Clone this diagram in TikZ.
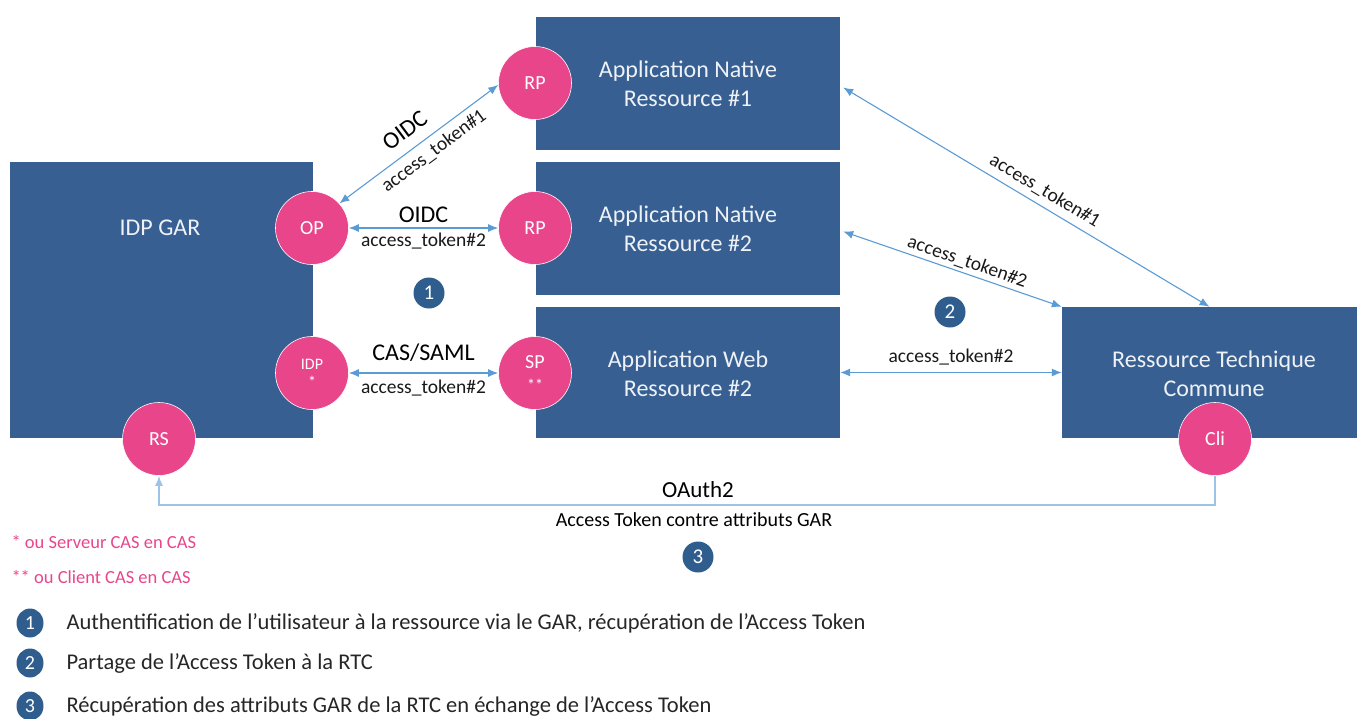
\documentclass[tikz,border=0pt]{standalone}
\usepackage{fontspec}
\setmainfont{Carlito}
\usetikzlibrary{arrows.meta,calc,shapes.geometric}
\definecolor{navy}{HTML}{375F91}
\definecolor{pinkc}{HTML}{E8458B}
\definecolor{arrc}{HTML}{5B9BD5}
\definecolor{oac}{HTML}{9DC3E6}
\definecolor{badgec}{HTML}{2F5E8E}
\definecolor{boxtxt}{HTML}{EEF2F7}
\tikzset{
  box/.style={fill=navy, draw=none, inner sep=0pt},
  boxlabel/.style={text=boxtxt, align=center, font=\fontsize{24}{29}\selectfont},
  role/.style={circle, fill=pinkc, draw=white, line width=0.6pt, minimum size=73pt, inner sep=0pt, text=white, align=center, font=\fontsize{20}{20}\selectfont},
  link/.style={draw=arrc, line width=1.1pt, {Latex[length=10pt,width=8pt]}-{Latex[length=10pt,width=8pt]}},
  proto/.style={font=\fontsize{24}{24}\selectfont, text=black, inner sep=1pt},
  tok/.style={font=\fontsize{19.5}{19.5}\selectfont, text=black!90, inner sep=1pt},
  badge/.style={circle, fill=badgec, minimum size=31pt, inner sep=0pt, text=white, font=\fontsize{21}{21}\selectfont},
  lbadge/.style={ellipse, fill=badgec, minimum width=27pt, minimum height=29pt, inner sep=0pt, text=white, font=\fontsize{20}{20}\selectfont},
  legend/.style={anchor=west, font=\fontsize{22.5}{22.5}\selectfont, text=black!85},
  note/.style={anchor=west, text=pinkc, font=\fontsize{18.5}{18.5}\selectfont}
}
\begin{document}
\begin{tikzpicture}[x=1pt,y=-1pt]
\useasboundingbox (0,0) rectangle (1357,718);
% boxes
\node[box, minimum width=303pt, minimum height=276pt] (idp) at (161.5,300) {};
\node[boxlabel] (idptxt) at (160,228) {IDP GAR};
\node[box, minimum width=304pt, minimum height=133pt] (app1) at (688,83.5) {};
\node[boxlabel] (app1txt) at (688,84) {Application Native\\Ressource \#1};
\node[box, minimum width=304pt, minimum height=133pt] (app2) at (688,228.5) {};
\node[boxlabel] (app2txt) at (688,229) {Application Native\\Ressource \#2};
\node[box, minimum width=304pt, minimum height=131pt] (web) at (688,372.5) {};
\node[boxlabel] (webtxt) at (688,374) {Application Web\\Ressource \#2};
\node[box, minimum width=295pt, minimum height=131pt] (rtc) at (1209.5,372.5) {};
\node[boxlabel] (rtctxt) at (1214,374) {Ressource Technique\\Commune};
% role circles
\node[role] (rp1) at (535,83) {RP};
\node[role] (op) at (312,228) {OP};
\node[role] (rp2) at (535,228) {RP};
\node[role, font=\fontsize{16}{18}\selectfont] (idpc) at (312,373) {IDP\\*};
\node[role, font=\fontsize{20}{22}\selectfont] (sp) at (535,373) {SP\\\fontsize{16}{16}\selectfont**};
\node[role] (rs) at (159,439) {RS};
\node[role] (cli) at (1215,439) {Cli};
% links
\draw[link] (op.42) -- (rp1.183)
  node[proto, midway, sloped, above=10pt, xshift=-3pt] (oidc1) {OIDC}
  node[tok, midway, sloped, below=5pt, xshift=8pt] (tok1) {access\_token\#1};
\draw[link] (op) -- (rp2)
  node[proto, midway, above=4pt] (oidc2) {OIDC}
  node[tok, midway, below=3pt] (tok2) {access\_token\#2};
\draw[link] (idpc) -- (sp)
  node[proto, midway, above=10pt] (cas) {CAS/SAML}
  node[tok, midway, below=5pt] (tok3) {access\_token\#2};
\draw[link] ($(app1.east)+(3,4)$) -- (rtc.north)
  node[tok, pos=0.53, sloped, above=5pt] (tok4) {access\_token\#1};
\draw[link] ($(app2.east)+(3,3)$) -- (rtc.north west)
  node[tok, pos=0.55, sloped, above=2pt] (tok5) {access\_token\#2};
\draw[link] (web.east) -- (rtc.west)
  node[tok, midway, above=6pt] (tok6) {access\_token\#2};
% OAuth2
\coordinate (oa) at (700,505);
\draw[draw=oac, line width=1.5pt, -{Latex[length=10pt,width=8pt]}] (cli.south) -- (cli.south |- oa) -- (rs.south |- oa) -- (rs.south);
\node[font=\fontsize{23}{23}\selectfont] (oauth) at (698,490) {OAuth2};
\node[font=\fontsize{20}{20}\selectfont] (oatxt) at (694,520) {Access Token contre attributs GAR};
% step badges
\node[badge] (b1) at (429,293) {1};
\node[badge] (b2) at (950,312) {2};
\node[badge] (b3) at (698,557) {3};
% footnotes
\node[note] (n1) at (8,542) {* ou Serveur CAS en CAS};
\node[note] (n2) at (8,577) {** ou Client CAS en CAS};
% legend
\node[lbadge] (l1) at (30,623) {1};
\node[legend] (lt1) at (63,623) {Authentification de l’utilisateur à la ressource via le GAR, récupération de l’Access Token};
\node[lbadge] (l2) at (30,663) {2};
\node[legend] (lt2) at (63,663) {Partage de l’Access Token à la RTC};
\node[lbadge] (l3) at (30,706) {3};
\node[legend] (lt3) at (63,706) {Récupération des attributs GAR de la RTC en échange de l’Access Token};
\end{tikzpicture}
\end{document}
